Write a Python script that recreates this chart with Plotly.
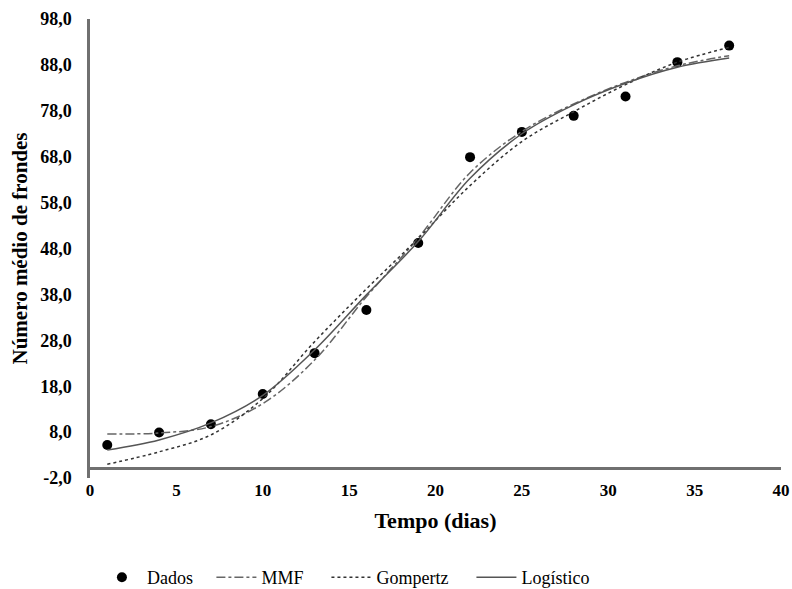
import plotly.graph_objects as go

# Observed data
dias = [1, 4, 7, 10, 13, 16, 19, 22, 25, 28, 31, 34, 37]
dados = [5.2, 7.9, 9.7, 16.3, 25.2, 34.6, 49.2, 67.9, 73.4, 76.9, 81.1, 88.6, 92.2]

# Fitted curves at the same days
mmf = [7.6, 7.8, 9.2, 14.2, 23.7, 37.5, 50.3, 64.5, 73.5, 79.5, 84.2, 87.8, 90.0]
gompertz = [1.0, 3.7, 7.4, 15.3, 27.7, 39.2, 50.2, 61.7, 71.3, 77.8, 83.7, 88.6, 91.8]
logistico = [4.1, 6.3, 10.0, 16.0, 25.9, 37.9, 49.5, 63.3, 73.0, 79.3, 84.0, 87.5, 89.5]

y_ticks = [-2, 8, 18, 28, 38, 48, 58, 68, 78, 88, 98]
y_labels = [f"{v:.1f}".replace(".", ",") for v in y_ticks]
x_ticks = [0, 5, 10, 15, 20, 25, 30, 35, 40]

serif = "Liberation Serif"
nb = "\u00a0"
fig = go.Figure()
fig.add_trace(go.Scatter(x=dias, y=dados, mode="markers", name="Dados" + nb * 3,
                         marker=dict(color="black", size=10)))
fig.add_trace(go.Scatter(x=dias, y=mmf, mode="lines", name="MMF" + nb * 4, line_shape="spline",
                         line=dict(color="#666666", width=1.5, dash="dashdot")))
fig.add_trace(go.Scatter(x=dias, y=gompertz, mode="lines", name="Gompertz" + nb * 4, line_shape="spline",
                         line=dict(color="#333333", width=1.5, dash="dot")))
fig.add_trace(go.Scatter(x=dias, y=logistico, mode="lines", name="Logístico", line_shape="spline",
                         line=dict(color="#555555", width=1.5)))

fig.update_layout(
    width=792, height=589,
    margin=dict(l=90, r=11, t=19, b=111, autoexpand=False),
    paper_bgcolor="white", plot_bgcolor="white",
    font=dict(family=serif, color="black"),
    showlegend=True,
    legend=dict(orientation="h", x=0.01, xanchor="left", y=-0.1765, yanchor="top",
                font=dict(family=serif, size=18, color="black"),
                itemwidth=40, tracegroupgap=0),
    xaxis=dict(range=[0, 40], tickvals=x_ticks, showgrid=False, zeroline=False,
               showline=False, ticks="",
               automargin=False,
               tickfont=dict(family=serif, size=17, color="black", weight="bold"),
               title=dict(text="<b>Tempo (dias)</b>", font=dict(family=serif, size=22), standoff=13)),
    yaxis=dict(range=[-2, 98], tickvals=y_ticks, ticktext=y_labels, showgrid=False,
               zeroline=True, zerolinecolor="#707070", zerolinewidth=2.5,
               showline=True, linecolor="#707070", linewidth=2.5,
               ticks="outside", ticklen=12, tickcolor="rgba(0,0,0,0)",
               automargin=False,
               tickfont=dict(family=serif, size=18, color="black", weight="bold"),
               title=dict(text="<b>Número médio de frondes</b>", font=dict(family=serif, size=21), standoff=7)),
)
fig.write_html(
    "out.html",
    config={"displayModeBar": False},
    post_script="document.body.style.margin='0';document.documentElement.style.overflow='hidden';",
)
